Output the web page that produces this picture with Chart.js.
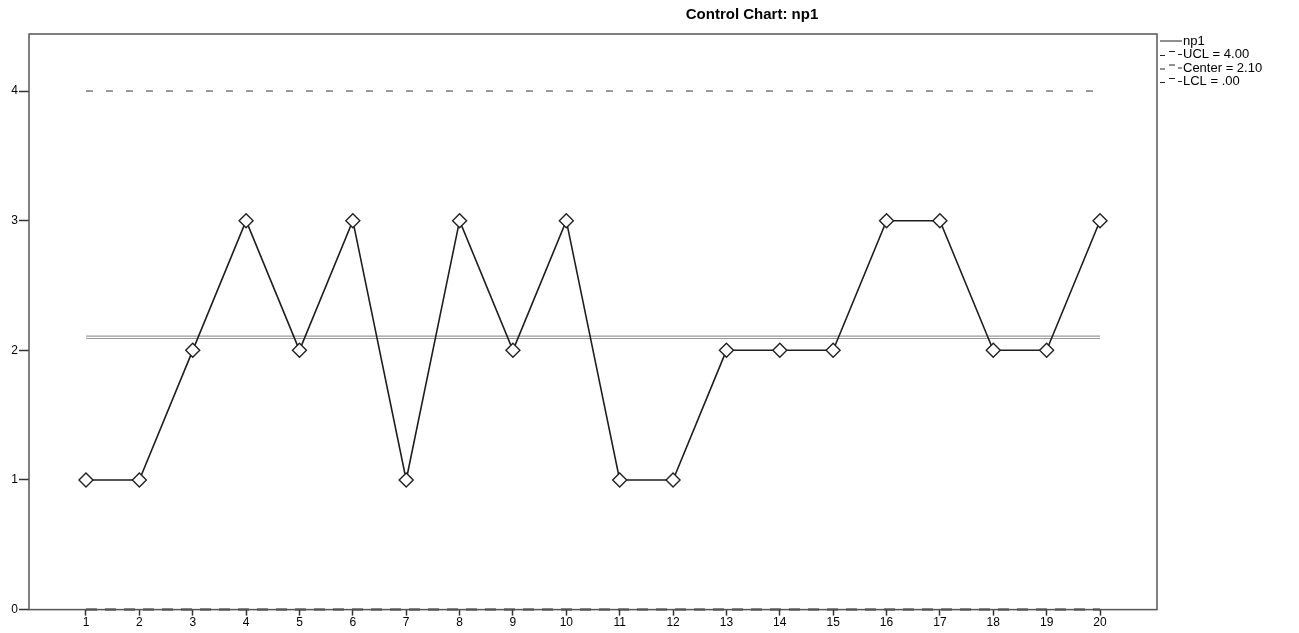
<!DOCTYPE html>
<html>
<head>
<meta charset="utf-8">
<script src="https://cdn.jsdelivr.net/npm/chart.js@4"></script>
<style>
  html, body { margin: 0; padding: 0; background: #fff; }
  #wrap { width: 1299px; height: 633px; position: relative; }
</style>
</head>
<body>
<div id="wrap"><canvas id="chart" width="1299" height="633"></canvas></div>
<script>
// values
const samples = [1, 2, 3, 4, 5, 6, 7, 8, 9, 10, 11, 12, 13, 14, 15, 16, 17, 18, 19, 20];
const np1 = [1, 1, 2, 3, 2, 3, 1, 3, 2, 3, 1, 1, 2, 2, 2, 3, 3, 2, 2, 3];
const ucl = 4.0;
const center = 2.1;
const lcl = 0.0;
const yTicks = [0, 1, 2, 3, 4];
const legendLabels = ["np1", "UCL = 4.00", "Center = 2.10", "LCL = .00"];
const title = "Control Chart: np1";

const flat = v => samples.map(s => ({ x: s, y: v }));
const FONT = "'Liberation Sans', Arial, sans-serif";

const frame = {
  id: "frame",
  afterDraw(chart) {
    const { ctx, chartArea: a } = chart;
    ctx.save();
    ctx.strokeStyle = "#555";
    ctx.lineWidth = 1.5;
    ctx.strokeRect(a.left, a.top, a.right - a.left, a.bottom - a.top);

    // title
    ctx.fillStyle = "#000";
    ctx.font = "bold 15px " + FONT;
    ctx.textAlign = "center";
    ctx.textBaseline = "middle";
    ctx.fillText(title, 752, 15);

    // legend
    ctx.font = "13px " + FONT;
    ctx.textAlign = "left";
    const lx = a.right + 3;
    legendLabels.forEach((t, i) => {
      const y = 41 + i * 13.5;
      ctx.strokeStyle = "#222";
      ctx.lineWidth = 1;
      if (i === 0) {
        ctx.beginPath(); ctx.moveTo(lx, y); ctx.lineTo(lx + 22, y); ctx.stroke();
      } else {
        ctx.beginPath(); ctx.moveTo(lx, y + 1); ctx.lineTo(lx + 5, y + 1); ctx.stroke();
        ctx.beginPath(); ctx.moveTo(lx + 9, y - 3); ctx.lineTo(lx + 15, y - 3); ctx.stroke();
        ctx.beginPath(); ctx.moveTo(lx + 18, y); ctx.lineTo(lx + 22, y); ctx.stroke();
      }
      ctx.fillText(t, lx + 23, y);
    });
    ctx.restore();
  }
};

new Chart(document.getElementById("chart"), {
  type: "line",
  data: {
    datasets: [
      {
        label: "Center",
        data: flat(center),
        borderColor: "#9a9a9a",
        borderWidth: 3.5,
        pointRadius: 0,
        order: 5
      },
      {
        label: "Center inner",
        data: flat(center),
        borderColor: "#ffffff",
        borderWidth: 1.3,
        pointRadius: 0,
        order: 4
      },
      {
        label: "UCL",
        data: flat(ucl),
        borderColor: "#333",
        borderWidth: 1,
        borderDash: [7, 13],
        pointRadius: 0,
        order: 3
      },
      {
        label: "LCL",
        data: flat(lcl),
        borderColor: "#222",
        borderWidth: 2,
        borderDash: [11, 8],
        pointRadius: 0,
        clip: false,
        order: 2
      },
      {
        label: "np1",
        data: samples.map((s, i) => ({ x: s, y: np1[i] })),
        borderColor: "#1e1e1e",
        borderWidth: 1.6,
        pointStyle: "rectRot",
        pointRadius: 7,
        pointBackgroundColor: "#fff",
        pointBorderColor: "#222",
        pointBorderWidth: 1.4,
        order: 1
      }
    ]
  },
  options: {
    responsive: false,
    animation: false,
    layout: { padding: { left: 0, right: 142, top: 34, bottom: 3 } },
    plugins: { legend: { display: false }, tooltip: { enabled: false } },
    scales: {
      x: {
        type: "linear",
        min: -0.068,
        max: 21.068,
        afterBuildTicks: axis => { axis.ticks = samples.map(v => ({ value: v })); },
        grid: { drawOnChartArea: false, tickLength: 6, tickColor: "#333", tickWidth: 1.5 },
        border: { display: false },
        ticks: {
          color: "#000",
          font: { size: 12, family: FONT },
          padding: 0,
          maxRotation: 0,
          autoSkip: false
        }
      },
      y: {
        min: 0,
        max: 4.44,
        afterBuildTicks: axis => { axis.ticks = yTicks.map(v => ({ value: v })); },
        afterFit: axis => { axis.width = 29; },
        grid: { drawOnChartArea: false, tickLength: 10, tickColor: "#333", tickWidth: 1.5 },
        border: { display: false },
        ticks: {
          color: "#000",
          font: { size: 12, family: FONT },
          padding: 1
        }
      }
    }
  },
  plugins: [frame]
});
</script>
</body>
</html>
